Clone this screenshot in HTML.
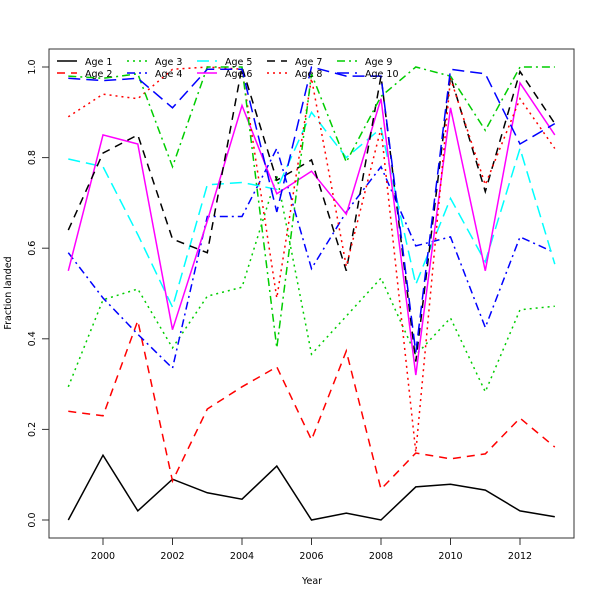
<!DOCTYPE html>
<html><head><meta charset="utf-8"><style>
body{margin:0;background:#fff}
svg{display:block;font-family:"DejaVu Sans","Liberation Sans",sans-serif}
</style></head><body>
<svg id="chart" width="600" height="600">
<rect x="0" y="0" width="600" height="600" fill="#fff"/>
<g id="series"></g>
<rect x="49" y="49" width="525" height="489" fill="none" stroke="#333" stroke-width="1"/>
<g id="axes"></g>
<text x="312" y="584" font-size="9.5" text-anchor="middle">Year</text>
<text x="11" y="293" font-size="9.5" text-anchor="middle" transform="rotate(-90 11 293)">Fraction landed</text>
<g id="legend"></g>
</svg>
<script>
const years = [1999,2000,2001,2002,2003,2004,2005,2006,2007,2008,2009,2010,2011,2012,2013];
const xTicks = [2000,2002,2004,2006,2008,2010,2012];
const yTicks = [0,0.2,0.4,0.6,0.8,1.0];
const yTickLabels = ["0.0","0.2","0.4","0.6","0.8","1.0"];
const seriesNames = ["Age 1","Age 2","Age 3","Age 4","Age 5","Age 6","Age 7","Age 8","Age 9","Age 10"];
const age1 = [0,0.143,0.02,0.09,0.06,0.046,0.119,0,0.015,0,0.073,0.079,0.066,0.02,0.007];
const age2 = [0.24,0.23,0.44,0.086,0.245,0.294,0.338,0.177,0.373,0.068,0.148,0.135,0.146,0.225,0.161];
const age3 = [0.294,0.486,0.51,0.38,0.494,0.514,0.76,0.366,0.45,0.534,0.364,0.446,0.283,0.464,0.472];
const age4 = [0.59,0.49,0.41,0.335,0.67,0.67,0.82,0.555,0.68,0.78,0.605,0.625,0.425,0.625,0.59];
const age5 = [0.797,0.78,0.63,0.47,0.74,0.745,0.73,0.9,0.8,0.865,0.52,0.71,0.57,0.82,0.565];
const age6 = [0.55,0.85,0.83,0.42,0.66,0.915,0.72,0.77,0.675,0.93,0.32,0.91,0.55,0.965,0.85];
const age7 = [0.64,0.81,0.85,0.62,0.59,1.0,0.75,0.795,0.55,0.98,0.35,0.98,0.725,0.99,0.875];
const age8 = [0.89,0.94,0.93,0.995,1.0,0.995,0.49,0.975,0.56,0.865,0.15,0.975,0.74,0.93,0.82];
const age9 = [0.98,0.975,0.985,0.78,1.0,1.0,0.38,0.985,0.79,0.935,1.0,0.98,0.86,1.0,1.0];
const age10 = [0.975,0.97,0.975,0.91,0.995,0.995,0.68,1.0,0.98,0.98,0.37,0.995,0.985,0.83,0.875];
const allSeries = [age1,age2,age3,age4,age5,age6,age7,age8,age9,age10];
const colors = ["#000","#ff0000","#00cd00","#0000ff","#00ffff","#ff00ff","#000","#ff0000","#00cd00","#0000ff"];
const dashes = ["","8,6","2,4","8,4,2,4","12,6","","8,6","2,4","8,4,2,4","12,6"];

const NS = "http://www.w3.org/2000/svg";
function xScale(v){return 103 + (v-2000)*34.75;}
function yScale(v){return 520 - v*453;}
function mk(tag, attrs, parent){const e=document.createElementNS(NS,tag);for(const k in attrs)e.setAttribute(k,attrs[k]);parent.appendChild(e);return e;}

const sg = document.getElementById("series");
allSeries.forEach((s,i)=>{
  const pts = s.map((v,j)=>xScale(years[j]).toFixed(1)+","+yScale(v).toFixed(1)).join(" ");
  const p = mk("polyline",{points:pts,fill:"none",stroke:colors[i],"stroke-width":1.5,"stroke-dasharray":dashes[i]},sg);
  
  
});

const ax = document.getElementById("axes");
xTicks.forEach(t=>{
  const x = xScale(t);
  const l = mk("line",{x1:x,x2:x,y1:538,y2:545,stroke:"#333"},ax);
  
  
  const tx = mk("text",{x:x,y:559,"font-size":9.5,"text-anchor":"middle"},ax);
  tx.textContent = t;
  
  
});
yTicks.forEach((t,i)=>{
  const y = yScale(t);
  const l = mk("line",{x1:42,x2:49,y1:y,y2:y,stroke:"#333"},ax);
  
  
  const tx = mk("text",{x:35,y:y,"font-size":9.5,"text-anchor":"middle",transform:"rotate(-90 35 "+y+")"},ax);
  tx.textContent = yTickLabels[i];
  
  
});

const lg = document.getElementById("legend");
seriesNames.forEach((n,i)=>{
  const col = Math.floor(i/2), row = i%2;
  const x0 = 57 + col*70, y0 = 61 + row*12;
  const l = mk("line",{x1:x0,x2:x0+20,y1:y0,y2:y0,stroke:colors[i],"stroke-width":1.5,"stroke-dasharray":dashes[i]},lg);
  
  
  const tx = mk("text",{x:x0+28,y:y0+4,"font-size":9.5},lg);
  tx.textContent = n;
  
  
});
</script>
</body></html>
